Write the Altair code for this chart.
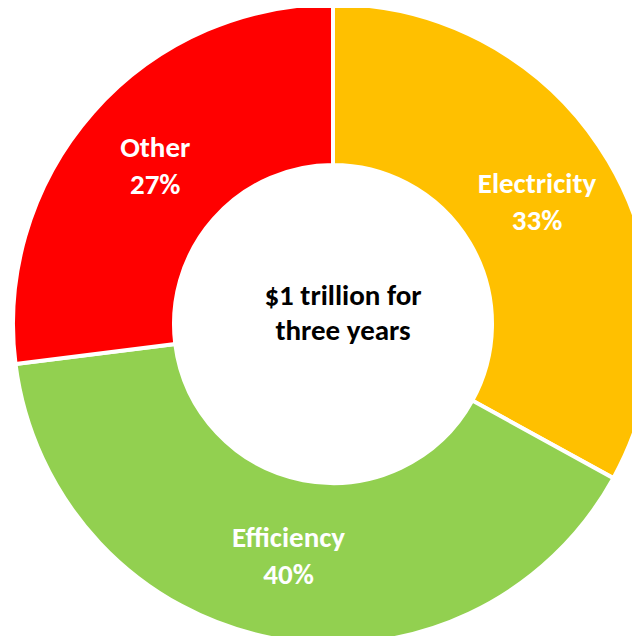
import altair as alt
import pandas as pd

categories = ["Electricity", "Efficiency", "Other"]
shares = [33, 40, 27]
colors = ["#FFC000", "#92D050", "#FF0000"]
center_lines = ["$1 trillion for", "three years"]

df = pd.DataFrame({
    "category": categories,
    "share": shares,
    "order": list(range(len(categories))),
    "pct": [f"{v}%" for v in shares],
})

FONT = "Carlito, Lato, sans-serif"
CX, CY = 325, 316

base = alt.Chart(df).encode(
    theta=alt.Theta("share:Q", stack=True),
    order=alt.Order("order:Q"),
)

arcs = base.mark_arc(stroke="white", strokeWidth=4).encode(
    x=alt.value(CX), y=alt.value(CY),
    radius=alt.value(320), radius2=alt.value(159),
    color=alt.Color("category:N", scale=alt.Scale(domain=categories, range=colors), legend=None),
)

names = base.mark_text(font=FONT, fontSize=29, fontWeight="bold", color="white",
                       baseline="middle", align="center", dy=-19).encode(
    x=alt.value(CX), y=alt.value(CY),
    radius=alt.value(237), text="category:N",
)
pcts = base.mark_text(font=FONT, fontSize=29, fontWeight="bold", color="white",
                      baseline="middle", align="center", dy=18).encode(
    x=alt.value(CX), y=alt.value(CY),
    radius=alt.value(237), text="pct:N",
)

center = alt.Chart(pd.DataFrame({"t": [center_lines]})).mark_text(
    font=FONT, fontSize=29, fontWeight="bold", color="black",
    baseline="alphabetic", align="center", lineHeight=35,
).encode(x=alt.value(CX + 10), y=alt.value(CY - 19), text="t")

chart = alt.layer(arcs, names, pcts, center).properties(
    width=624, height=628,
    autosize=alt.AutoSizeParams(type="none"),
    padding=0,
).configure_view(stroke=None)

chart.save("out.html", embed_options={"renderer": "svg", "actions": False})
